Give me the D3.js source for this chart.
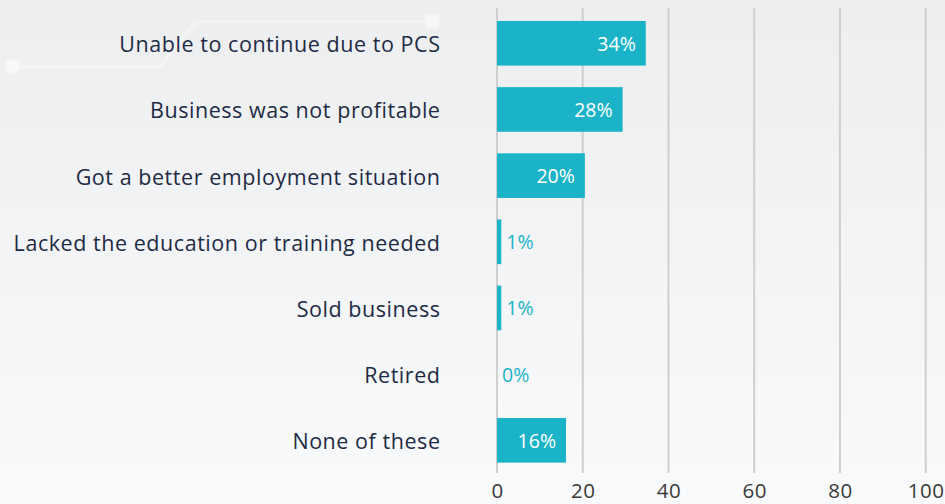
<!DOCTYPE html>
<html><head><meta charset="utf-8">
<script src="https://cdn.jsdelivr.net/npm/d3@7/dist/d3.min.js"></script>
<style>
html,body{margin:0;padding:0;background:#f3f4f6;}
svg{display:block;font-family:"Open Sans",Lato,sans-serif;}
</style></head>
<body>
<svg id="chart" width="945" height="504"></svg>
<script>
const categories = [
  "Unable to continue due to PCS",
  "Business was not profitable",
  "Got a better employment situation",
  "Lacked the education or training needed",
  "Sold business",
  "Retired",
  "None of these"
];
const values = [34.7, 29.3, 20.5, 1.0, 1.0, 0, 16.1];
const valueLabels = ["34%", "28%", "20%", "1%", "1%", "0%", "16%"];
const xTicks = [0, 20, 40, 60, 80, 100];

const W = 945, H = 504;
const FONT = '"Open Sans",Lato,sans-serif';
const svg = d3.select("#chart");

// background
const defs = svg.append("defs");
const g = defs.append("linearGradient").attr("id","bg").attr("x1",0).attr("y1",0).attr("x2",0).attr("y2",1);
g.append("stop").attr("offset","0%").attr("stop-color","#eceef0");
g.append("stop").attr("offset","100%").attr("stop-color","#f9fafb");
svg.append("rect").attr("width",W).attr("height",H).attr("fill","url(#bg)");
const blur = defs.append("filter").attr("id","blur");
blur.append("feGaussianBlur").attr("stdDeviation",1.3);
// faint decorative circuit lines
const deco = svg.append("g").attr("stroke","#ffffff").attr("fill","none").attr("opacity",0.6).attr("filter","url(#blur)");
deco.append("path").attr("d","M10 67 L160 67 L195 22 L432 22").attr("stroke-width",2);
deco.append("rect").attr("x",6).attr("y",60).attr("width",13).attr("height",13).attr("fill","#ffffff").attr("stroke","none");
deco.append("rect").attr("x",426).attr("y",15).attr("width",13).attr("height",13).attr("fill","#ffffff").attr("stroke","none");

const x = d3.scaleLinear().domain([0, 100]).range([497, 925.7]);
const y = d3.scaleBand().domain(categories).range([10.2, 473.4]).paddingInner(0.325).paddingOuter(0.1625);

// gridlines
svg.append("g").selectAll("line").data(xTicks).join("line")
  .attr("x1", d => x(d)).attr("x2", d => x(d))
  .attr("y1", 8).attr("y2", 473)
  .attr("stroke", "#cfcfcf").attr("stroke-width", 2);

// x axis labels
const xAxis = d3.axisBottom(x).tickValues(xTicks).tickSize(0).tickPadding(0);
const ax = svg.append("g").attr("transform", "translate(0,483)").call(xAxis);
ax.select(".domain").remove();
ax.selectAll("text").attr("font-size", 20.5).attr("fill", "#3a3a3a")
  .attr("font-family", FONT).attr("dy", "0.71em").attr("letter-spacing", "0.5px");

// y labels
const yAxis = d3.axisLeft(y).tickSize(0).tickPadding(0);
const ay = svg.append("g").attr("transform", "translate(440.5,0)").call(yAxis);
ay.select(".domain").remove();
ay.selectAll("text").attr("font-size", 21.5).attr("fill", "#1e2b45")
  .attr("font-family", FONT).attr("dy", "0.42em").attr("letter-spacing", "0.55px");

const teal = "#1bb3c7";
const data = categories.map((c, i) => ({c, v: values[i], l: valueLabels[i]}));

svg.append("g").selectAll("rect").data(data).join("rect")
  .attr("x", x(0)).attr("y", d => y(d.c))
  .attr("width", d => x(d.v) - x(0)).attr("height", y.bandwidth())
  .attr("fill", teal);

svg.append("g").selectAll("text").data(data).join("text")
  .attr("x", d => d.v > 8 ? x(d.v) - 10 : x(d.v) + 5)
  .attr("y", d => y(d.c) + y.bandwidth() / 2)
  .attr("dy", "0.38em")
  .attr("text-anchor", d => d.v > 8 ? "end" : "start")
  .attr("fill", d => d.v > 8 ? "#ffffff" : teal)
  .attr("font-size", 19.5)
  .text(d => d.l);
</script>
</body></html>
